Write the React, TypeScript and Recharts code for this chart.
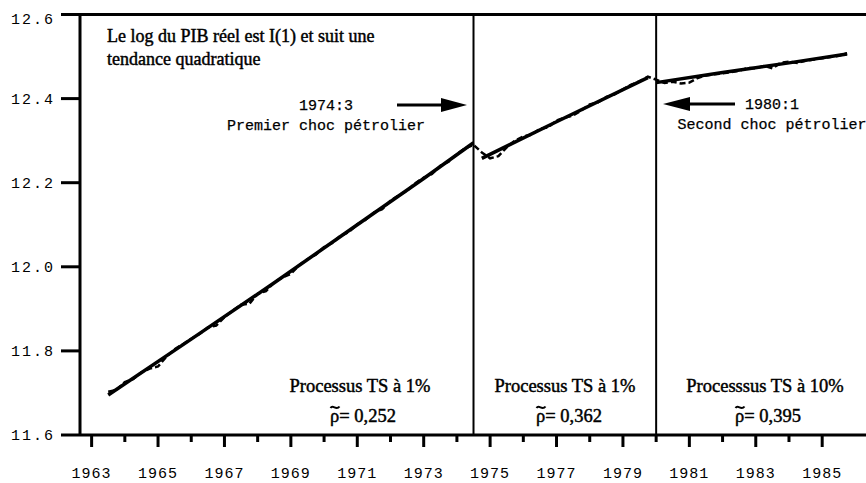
import React from "react";
import { LineChart, Line, XAxis, YAxis, ReferenceLine } from "recharts";

// Quarterly log real GDP (dashed), starting 1963:3
const actualStart = 1963.5;
const actualValues = [
  // 1963:3 - 1974:3
  11.703, 11.707, 11.726, 11.733, 11.749, 11.758, 11.763, 11.786, 11.804, 11.816,
  11.829, 11.840, 11.856, 11.860, 11.880, 11.896, 11.910, 11.912, 11.936, 11.942,
  11.963, 11.975, 11.983, 12.004, 12.018, 12.029, 12.047, 12.057, 12.074, 12.083,
  12.101, 12.112, 12.129, 12.137, 12.157, 12.170, 12.181, 12.199, 12.212, 12.221,
  12.240, 12.250, 12.268, 12.282, 12.290,
  // 1974:4 - 1979:4
  12.272, 12.258, 12.263, 12.284, 12.300, 12.310, 12.314, 12.328, 12.332, 12.348,
  12.355, 12.360, 12.372, 12.386, 12.391, 12.404, 12.410, 12.422, 12.433, 12.441,
  12.452,
  // 1980:1 - 1985:4
  12.445, 12.437, 12.440, 12.436, 12.438, 12.449, 12.455, 12.458, 12.460, 12.463,
  12.466, 12.473, 12.472, 12.478, 12.472, 12.485, 12.488, 12.485, 12.490, 12.493,
  12.496, 12.499, 12.502, 12.508,
];

// Fitted trend (solid), three regimes
const trend1T = [1963.5, 1966, 1968.5, 1971, 1973, 1974.5];
const trend1V = [11.695, 11.828, 11.962, 12.1, 12.21, 12.295];
const trend2T = [1974.75, 1977, 1979.75];
const trend2V = [12.258, 12.345, 12.45];
const trend3T = [1980, 1982, 1984, 1985.75];
const trend3V = [12.438, 12.462, 12.485, 12.506];

const breakDates = [1974.5, 1980];
const yearTicks = [
  1963, 1964, 1965, 1966, 1967, 1968, 1969, 1970, 1971, 1972, 1973, 1974,
  1975, 1976, 1977, 1978, 1979, 1980, 1981, 1982, 1983, 1984, 1985,
];
const yTicks = [11.6, 11.8, 12.0, 12.2, 12.4, 12.6];

const headerLines = ["Le log du PIB réel est I(1) et suit une", "tendance quadratique"];
const regimeTitles = ["Processus TS à 1%", "Processus TS à 1%", "Processsus TS à 10%"];
const regimeRhos = ["0,252", "0,362", "0,395"];
const shockLabels = [
  ["1974:3", "Premier choc pétrolier"],
  ["1980:1", "Second choc pétrolier"],
];

const actualData = actualValues.map((v, i) => ({ t: actualStart + i * 0.25, v }));
const toPts = (ts: number[], vs: number[]) => ts.map((t, i) => ({ t, v: vs[i] }));
const trend1 = toPts(trend1T, trend1V);
const trend2 = toPts(trend2T, trend2V);
const trend3 = toPts(trend3T, trend3V);

const MONO = "'Liberation Mono', 'Courier New', monospace";
const SERIF = "'Liberation Serif', 'Times New Roman', serif";

const XTick = (props: any) => {
  const { x, y, payload } = props;
  const yr = payload.value as number;
  const major = yr % 2 === 1;
  return (
    <g>
      <line x1={x} x2={x} y1={y} y2={y + (major ? 12 : 7)} stroke="#000" strokeWidth={3} />
      {major && (
        <text x={x} y={y + 43} textAnchor="middle" fontFamily={MONO} fontSize={15} letterSpacing={1} fill="#000">
          {yr}
        </text>
      )}
    </g>
  );
};

const YTick = (props: any) => {
  const { x, y, payload } = props;
  const v = payload.value as number;
  const top = v >= 12.6 - 1e-9;
  return (
    <g>
      <line x1={x - 19} x2={x} y1={y} y2={y} stroke="#000" strokeWidth={3} />
      <text x={x - 25} y={y + (top ? 9 : 5)} textAnchor="end" fontFamily={MONO} fontSize={15} letterSpacing={2} fill="#000">
        {v.toFixed(1)}
      </text>
    </g>
  );
};

const serifStyle = { fontFamily: SERIF, fill: "#000", stroke: "#000", strokeWidth: 0.45 } as const;
const monoStyle = { fontFamily: MONO, fill: "#000", stroke: "#000", strokeWidth: 0.25 } as const;

const RhoLabel = ({ x, y, value }: { x: number; y: number; value: string }) => (
  <g>
    <text x={x} y={y} fontSize={18.5} {...serifStyle}>
      {"\u03C1= " + value}
    </text>
    <path
      d={`M${x + 0.5},${y - 14} C${x + 3},${y - 18} ${x + 6},${y - 11} ${x + 9.5},${y - 15.5}`}
      fill="none"
      stroke="#000"
      strokeWidth={2}
    />
  </g>
);

export default function App() {
  const titleX = [360, 565, 765];
  const rhoLeft = [330, 536, 735];
  return (
    <div style={{ position: "fixed", left: 0, top: 0, width: 866, height: 483, overflow: "hidden", background: "#fff" }}>
      <LineChart width={900} height={483} margin={{ top: 14.5, right: 28, bottom: 0, left: 0 }}>
        <XAxis
          type="number"
          dataKey="t"
          domain={[1962.65, 1986.5]}
          ticks={yearTicks}
          interval={0}
          tick={(p: any) => <XTick {...p} />}
          tickLine={false}
          tickSize={0}
          tickMargin={0}
          axisLine={{ stroke: "#000", strokeWidth: 3 }}
          height={48}
          allowDataOverflow
        />
        <YAxis
          type="number"
          domain={[11.6, 12.6]}
          ticks={yTicks}
          interval={0}
          tick={(p: any) => <YTick {...p} />}
          tickLine={false}
          tickSize={0}
          tickMargin={0}
          axisLine={{ stroke: "#000", strokeWidth: 3 }}
          width={80}
          allowDataOverflow
        />
        <ReferenceLine y={12.6} stroke="#000" strokeWidth={3} />
        {breakDates.map((d) => (
          <ReferenceLine key={d} x={d} stroke="#000" strokeWidth={2} />
        ))}
        <Line data={trend1} dataKey="v" type="linear" stroke="#000" strokeWidth={3.5} dot={false} activeDot={false} isAnimationActive={false} />
        <Line data={trend2} dataKey="v" type="linear" stroke="#000" strokeWidth={3.5} dot={false} activeDot={false} isAnimationActive={false} />
        <Line data={trend3} dataKey="v" type="linear" stroke="#000" strokeWidth={3.5} dot={false} activeDot={false} isAnimationActive={false} />
        <Line data={actualData} dataKey="v" type="linear" stroke="#000" strokeWidth={2.5} strokeDasharray="6 3" dot={false} activeDot={false} isAnimationActive={false} />
      </LineChart>
      <svg width={866} height={483} style={{ position: "absolute", left: 0, top: 0, pointerEvents: "none" }}>
        {headerLines.map((l, i) => (
          <text key={i} x={107} y={42 + i * 23} fontSize={18} {...serifStyle}>
            {l}
          </text>
        ))}
        {/* first shock */}
        <text x={326} y={110} textAnchor="middle" fontSize={15} {...monoStyle}>{shockLabels[0][0]}</text>
        <text x={326} y={130} textAnchor="middle" fontSize={15} {...monoStyle}>{shockLabels[0][1]}</text>
        <line x1={397} x2={446} y1={105} y2={105} stroke="#000" strokeWidth={3} />
        <polygon points="441,98 467,105 441,112" fill="#000" />
        {/* second shock */}
        <text x={772} y={109} textAnchor="middle" fontSize={15} {...monoStyle}>{shockLabels[1][0]}</text>
        <text x={772} y={129} textAnchor="middle" fontSize={15} {...monoStyle}>{shockLabels[1][1]}</text>
        <line x1={686} x2={735} y1={104} y2={104} stroke="#000" strokeWidth={3} />
        <polygon points="690,97 663,104 690,111" fill="#000" />
        {regimeTitles.map((t, i) => (
          <g key={i}>
            <text x={titleX[i]} y={392} textAnchor="middle" fontSize={18.5} {...serifStyle}>{t}</text>
            <RhoLabel x={rhoLeft[i]} y={422} value={regimeRhos[i]} />
          </g>
        ))}
      </svg>
    </div>
  );
}
